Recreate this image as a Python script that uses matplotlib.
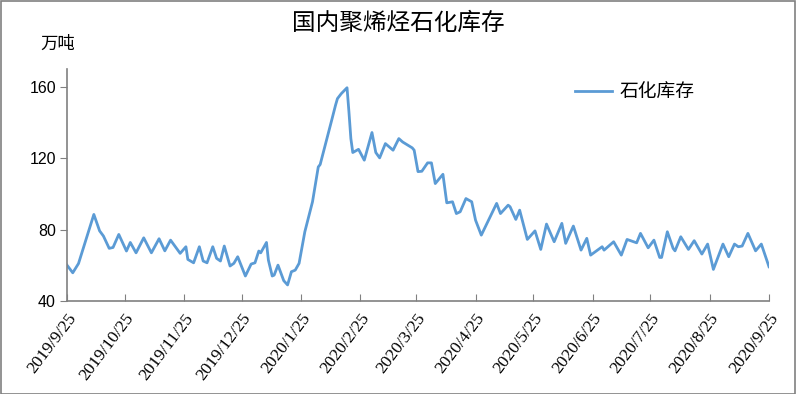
import matplotlib
matplotlib.use("Agg")
import matplotlib.pyplot as plt
import matplotlib.dates as mdates
from matplotlib.patches import Rectangle
import pandas as pd

plt.rcParams['font.family'] = ['Noto Sans CJK SC', 'DejaVu Sans']

title = "国内聚烯烃石化库存"
unit_label = "万吨"
series_name = "石化库存"

dates = [
    "2019-09-25", "2019-09-28", "2019-10-01", "2019-10-09", "2019-10-12", "2019-10-14",
    "2019-10-17", "2019-10-19", "2019-10-22", "2019-10-26", "2019-10-28", "2019-10-31",
    "2019-11-04", "2019-11-08", "2019-11-12", "2019-11-15", "2019-11-18", "2019-11-23",
    "2019-11-26", "2019-11-27", "2019-11-30", "2019-12-03", "2019-12-05", "2019-12-07",
    "2019-12-10", "2019-12-12", "2019-12-14", "2019-12-16", "2019-12-19", "2019-12-21",
    "2019-12-23", "2019-12-27", "2019-12-30", "2020-01-01", "2020-01-03", "2020-01-04",
    "2020-01-07", "2020-01-08", "2020-01-10", "2020-01-11", "2020-01-13", "2020-01-16",
    "2020-01-18", "2020-01-20", "2020-01-22", "2020-01-24", "2020-01-27", "2020-01-31",
    "2020-02-03", "2020-02-04", "2020-02-08", "2020-02-10", "2020-02-12", "2020-02-13",
    "2020-02-15", "2020-02-18", "2020-02-19", "2020-02-20", "2020-02-21", "2020-02-24",
    "2020-02-27", "2020-03-02", "2020-03-04", "2020-03-06", "2020-03-09", "2020-03-13",
    "2020-03-16", "2020-03-18", "2020-03-23", "2020-03-24", "2020-03-26", "2020-03-28",
    "2020-03-31", "2020-04-02", "2020-04-04", "2020-04-08", "2020-04-10", "2020-04-13",
    "2020-04-15", "2020-04-17", "2020-04-20", "2020-04-23", "2020-04-25", "2020-04-28",
    "2020-05-06", "2020-05-08", "2020-05-12", "2020-05-13", "2020-05-16", "2020-05-18",
    "2020-05-22", "2020-05-24", "2020-05-26", "2020-05-29", "2020-06-01", "2020-06-05",
    "2020-06-09", "2020-06-11", "2020-06-15", "2020-06-19", "2020-06-22", "2020-06-24",
    "2020-06-30", "2020-07-01", "2020-07-06", "2020-07-10", "2020-07-13", "2020-07-18",
    "2020-07-20", "2020-07-24", "2020-07-27", "2020-07-30", "2020-07-31", "2020-08-03",
    "2020-08-06", "2020-08-07", "2020-08-10", "2020-08-14", "2020-08-17", "2020-08-21",
    "2020-08-24", "2020-08-27", "2020-09-01", "2020-09-04", "2020-09-07", "2020-09-09",
    "2020-09-11", "2020-09-14", "2020-09-18", "2020-09-21", "2020-09-25",
]
values = [
    60.1, 55.8, 61.0, 88.5, 79.3, 76.4,
    69.5, 70.0, 77.3, 68.0, 72.8, 67.0,
    75.4, 67.0, 74.9, 68.1, 74.1, 66.7,
    70.4, 63.3, 61.4, 70.4, 62.4, 61.4,
    70.4, 63.9, 62.4, 70.8, 59.6, 61.1,
    64.8, 54.0, 60.7, 61.4, 68.0, 67.0,
    72.8, 62.9, 54.0, 54.5, 60.1, 51.4,
    49.0, 56.4, 57.3, 61.1, 78.8, 95.6,
    115.1, 116.5, 132.9, 141.3, 149.7, 153.4,
    156.2, 159.5, 145.9, 131.0, 123.2, 125.0,
    118.9, 134.4, 123.2, 120.2, 128.2, 124.5,
    131.0, 129.1, 125.8, 124.5, 112.5, 112.7,
    117.4, 117.4, 105.8, 111.0, 95.0, 95.6,
    89.0, 90.0, 97.4, 95.6, 85.3, 76.9,
    94.7, 89.0, 93.7, 92.8, 85.7, 90.9,
    74.5, 76.9, 79.3, 68.9, 83.1, 73.2,
    83.5, 72.3, 82.0, 68.5, 75.1, 65.7,
    70.4, 68.5, 73.2, 65.7, 74.5, 72.6,
    77.9, 69.8, 74.1, 64.4, 64.4, 78.8,
    69.5, 68.1, 76.0, 68.9, 73.8, 66.3,
    71.9, 57.7, 71.9, 64.8, 71.9, 70.4,
    70.8, 77.9, 68.1, 71.9, 59.2,
]
tick_dates = ["2019-09-25", "2019-10-25", "2019-11-25", "2019-12-25", "2020-01-25",
              "2020-02-25", "2020-03-25", "2020-04-25", "2020-05-25", "2020-06-25",
              "2020-07-25", "2020-08-25", "2020-09-25"]
tick_labels = ["2019/9/25", "2019/10/25", "2019/11/25", "2019/12/25", "2020/1/25",
               "2020/2/25", "2020/3/25", "2020/4/25", "2020/5/25", "2020/6/25",
               "2020/7/25", "2020/8/25", "2020/9/25"]
y_ticks = [40, 80, 120, 160]

x = pd.to_datetime(dates)
xt = pd.to_datetime(tick_dates)

fig = plt.figure(figsize=(7.96, 3.94), dpi=100)
ax = fig.add_axes([67/796, (394-301)/394, (769-67)/796, (301-69)/394])

ax.plot(x, values, color="#5B9BD5", linewidth=2.0, label=series_name)

ax.set_xlim(xt[0], xt[-1])
ax.set_ylim(40, 170)
ax.set_yticks(y_ticks)
ax.set_yticklabels([str(v) for v in y_ticks])
for t in ax.get_yticklabels():
    t.set_fontfamily(["Liberation Sans"])
    t.set_fontsize(11.5)
ax.set_xticks(xt)
ax.set_xticklabels(tick_labels)
for t in ax.get_xticklabels():
    t.set_fontfamily(["Liberation Serif"])
    t.set_fontsize(12.5)
    t.set_rotation(53)
    t.set_ha("right")
    t.set_va("top")
    t.set_rotation_mode("anchor")
ax.tick_params(axis="x", direction="in", length=5, color="#808080", pad=7)
ax.tick_params(axis="y", direction="out", length=5, color="#808080", pad=3)

for s in ["top", "right"]:
    ax.spines[s].set_visible(False)
for s in ["left", "bottom"]:
    ax.spines[s].set_color("#808080")
    ax.spines[s].set_linewidth(1.2)

fig.text(398/796, 1 - 23/394, title, ha="center", va="center", fontsize=17)
fig.text(40/796, 1 - 44/394, unit_label, ha="left", va="center", fontsize=12.5)

leg = ax.legend(loc="upper left", bbox_to_anchor=((567-67)/702, 1 - (74-69)/232),
                frameon=False, fontsize=13.5, handlelength=2.0, handletextpad=0.4,
                borderaxespad=0)

fig.patches.append(Rectangle((0.5/796, 0.5/394), 1 - 1.5/796, 1 - 1.5/394,
                             transform=fig.transFigure, fill=False,
                             edgecolor="#808080", linewidth=1.2))

fig.savefig("out.png", dpi=100)
